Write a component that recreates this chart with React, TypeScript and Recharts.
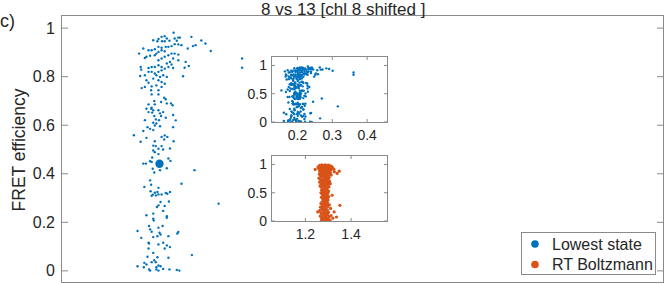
import { ScatterChart, Scatter, XAxis, YAxis } from 'recharts';

const BLUE = '#0072BD';
const ORANGE = '#D95319';
const FRAME = '#8a8a8a';
const TEXT = '#262626';
const FONT = "'Liberation Sans', Arial, Helvetica, sans-serif";

// lowest state: [x, FRET efficiency]
const lowestState: [number, number][] = [
  [0.230, 0.981], [0.213, 0.967], [0.207, 0.964], [0.217, 0.957], [0.201, 0.955], [0.191, 0.950], [0.199, 0.946],
  [0.208, 0.946], [0.213, 0.946], [0.222, 0.948], [0.232, 0.957], [0.239, 0.961], [0.242, 0.961], [0.264, 0.964],
  [0.283, 0.949], [0.291, 0.937], [0.272, 0.930], [0.267, 0.926], [0.257, 0.916], [0.301, 0.906], [0.236, 0.948],
  [0.232, 0.934], [0.239, 0.933], [0.245, 0.930], [0.226, 0.926], [0.220, 0.923], [0.215, 0.923], [0.207, 0.919],
  [0.201, 0.923], [0.194, 0.913], [0.188, 0.909], [0.182, 0.909], [0.172, 0.916], [0.207, 0.909], [0.213, 0.905],
  [0.201, 0.902], [0.197, 0.895], [0.194, 0.888], [0.185, 0.886], [0.178, 0.882], [0.175, 0.877], [0.164, 0.895],
  [0.226, 0.895], [0.232, 0.895], [0.239, 0.891], [0.220, 0.888], [0.213, 0.882], [0.207, 0.875], [0.201, 0.868],
  [0.229, 0.875], [0.239, 0.868], [0.253, 0.861], [0.223, 0.861], [0.217, 0.854], [0.226, 0.850], [0.220, 0.840],
  [0.213, 0.833], [0.207, 0.840], [0.201, 0.847], [0.194, 0.840], [0.188, 0.840], [0.182, 0.836], [0.167, 0.840],
  [0.168, 0.829], [0.251, 0.837], [0.259, 0.844], [0.229, 0.836], [0.207, 0.826], [0.201, 0.820], [0.194, 0.813],
  [0.188, 0.820], [0.182, 0.820], [0.175, 0.806], [0.166, 0.803], [0.197, 0.806], [0.204, 0.799], [0.210, 0.806],
  [0.217, 0.799], [0.248, 0.802], [0.191, 0.792], [0.178, 0.785], [0.182, 0.775], [0.201, 0.785], [0.207, 0.778],
  [0.213, 0.771], [0.197, 0.764], [0.188, 0.760], [0.175, 0.758], [0.169, 0.753], [0.207, 0.758], [0.361, 0.875],
  [0.361, 0.837],
  [0.187, 0.744], [0.201, 0.744], [0.188, 0.727], [0.201, 0.727], [0.212, 0.713], [0.215, 0.707], [0.193, 0.700],
  [0.206, 0.696], [0.217, 0.690], [0.225, 0.690], [0.228, 0.682], [0.182, 0.686], [0.194, 0.686], [0.188, 0.672],
  [0.178, 0.668], [0.187, 0.668], [0.191, 0.662], [0.201, 0.662], [0.182, 0.654], [0.189, 0.652], [0.210, 0.654],
  [0.204, 0.649], [0.229, 0.642], [0.193, 0.638], [0.206, 0.638], [0.215, 0.631], [0.175, 0.621], [0.196, 0.624],
  [0.202, 0.621], [0.234, 0.620], [0.191, 0.610], [0.197, 0.607], [0.194, 0.599], [0.204, 0.596], [0.229, 0.592],
  [0.180, 0.592], [0.185, 0.585], [0.172, 0.576], [0.191, 0.580], [0.154, 0.559], [0.207, 0.552], [0.213, 0.558],
  [0.218, 0.552], [0.212, 0.541], [0.167, 0.532], [0.178, 0.548], [0.194, 0.534], [0.230, 0.534], [0.191, 0.516],
  [0.196, 0.514], [0.207, 0.514], [0.201, 0.503], [0.210, 0.500], [0.223, 0.504], [0.191, 0.496], [0.194, 0.489],
  [0.201, 0.481], [0.189, 0.467], [0.185, 0.452], [0.188, 0.449], [0.172, 0.442], [0.177, 0.442], [0.220, 0.463],
  [0.224, 0.453], [0.217, 0.423], [0.190, 0.421], [0.204, 0.415], [0.193, 0.405], [0.270, 0.415], [0.245, 0.359],
  [0.185, 0.373], [0.187, 0.355], [0.174, 0.346], [0.201, 0.342], [0.186, 0.328], [0.194, 0.322], [0.199, 0.325],
  [0.190, 0.314], [0.188, 0.309], [0.196, 0.311], [0.201, 0.315], [0.207, 0.315], [0.215, 0.321], [0.218, 0.318],
  [0.223, 0.325], [0.221, 0.286], [0.205, 0.284], [0.201, 0.270], [0.198, 0.263], [0.213, 0.267], [0.316, 0.277],
  [0.210, 0.247], [0.178, 0.229], [0.191, 0.236], [0.217, 0.225],
  [0.191, 0.215], [0.192, 0.208], [0.217, 0.219], [0.183, 0.185], [0.209, 0.185], [0.161, 0.164], [0.185, 0.171],
  [0.188, 0.161], [0.201, 0.178], [0.203, 0.157], [0.205, 0.150], [0.191, 0.139], [0.199, 0.143], [0.220, 0.143],
  [0.237, 0.154], [0.239, 0.160], [0.168, 0.136], [0.182, 0.116], [0.183, 0.113], [0.201, 0.109], [0.210, 0.116],
  [0.217, 0.105], [0.213, 0.092], [0.223, 0.098], [0.182, 0.092], [0.191, 0.074], [0.180, 0.058], [0.199, 0.056],
  [0.220, 0.054], [0.265, 0.065], [0.193, 0.044], [0.174, 0.033], [0.178, 0.026], [0.188, 0.036], [0.196, 0.036],
  [0.201, 0.022], [0.205, 0.019], [0.197, 0.015], [0.161, 0.019], [0.173, 0.015], [0.183, 0.006], [0.185, 0.001],
  [0.197, 0.006], [0.201, 0.001], [0.210, 0.008], [0.222, 0.006], [0.236, 0.004], [0.241, 0.001],
];
const lowestMean: [number, number][] = [[0.203, 0.441]];

// RT Boltzmann: [x, FRET efficiency]
const boltzmann: [number, number][] = [
  [1.262, 0.985], [1.271, 0.992], [1.279, 0.978], [1.286, 0.995], [1.293, 0.983], [1.301, 0.990], [1.309, 0.976],
  [1.268, 0.968], [1.276, 0.962], [1.284, 0.971], [1.291, 0.958], [1.298, 0.966], [1.306, 0.960], [1.314, 0.969],
  [1.255, 0.955], [1.264, 0.948], [1.273, 0.944], [1.281, 0.952], [1.289, 0.940], [1.296, 0.947], [1.303, 0.938],
  [1.311, 0.951], [1.319, 0.943], [1.258, 0.930], [1.267, 0.926], [1.275, 0.933], [1.283, 0.920], [1.292, 0.928],
  [1.300, 0.918], [1.308, 0.925], [1.316, 0.931], [1.243, 0.912], [1.262, 0.910], [1.271, 0.905], [1.279, 0.914],
  [1.287, 0.902], [1.295, 0.908], [1.304, 0.900], [1.312, 0.909], [1.325, 0.912], [1.266, 0.892], [1.277, 0.888],
  [1.289, 0.895], [1.298, 0.884], [1.307, 0.890], [1.348, 0.882], [1.339, 0.842], [1.327, 0.870],
  [1.263, 0.874], [1.272, 0.866], [1.283, 0.871], [1.292, 0.860], [1.301, 0.868], [1.310, 0.857], [1.268, 0.850],
  [1.279, 0.843], [1.288, 0.852], [1.296, 0.838], [1.305, 0.845], [1.261, 0.828], [1.274, 0.822], [1.285, 0.830],
  [1.294, 0.816], [1.303, 0.824], [1.313, 0.812], [1.266, 0.805], [1.277, 0.798], [1.289, 0.808], [1.298, 0.792],
  [1.270, 0.782], [1.282, 0.775], [1.292, 0.786], [1.304, 0.770], [1.259, 0.760], [1.286, 0.755], [1.297, 0.748],
  [1.265, 0.738], [1.276, 0.731], [1.288, 0.726], [1.300, 0.734], [1.271, 0.712], [1.283, 0.705], [1.294, 0.716],
  [1.306, 0.701], [1.262, 0.690], [1.278, 0.684], [1.290, 0.692], [1.301, 0.678], [1.268, 0.665], [1.280, 0.658],
  [1.293, 0.670], [1.309, 0.660], [1.274, 0.642], [1.286, 0.636], [1.298, 0.648], [1.264, 0.620], [1.279, 0.614],
  [1.291, 0.625], [1.303, 0.608], [1.270, 0.596], [1.284, 0.588], [1.296, 0.580], [1.275, 0.565], [1.289, 0.558],
  [1.271, 0.545], [1.283, 0.538], [1.294, 0.548], [1.302, 0.530], [1.276, 0.520], [1.288, 0.512], [1.299, 0.505],
  [1.268, 0.498], [1.281, 0.490], [1.293, 0.484], [1.274, 0.470], [1.286, 0.462], [1.297, 0.455], [1.317, 0.456],
  [1.279, 0.442], [1.291, 0.436], [1.302, 0.428], [1.270, 0.418], [1.284, 0.410], [1.295, 0.402], [1.276, 0.388],
  [1.288, 0.380], [1.299, 0.372], [1.281, 0.356], [1.293, 0.350],
  [1.273, 0.338], [1.286, 0.330], [1.297, 0.322], [1.268, 0.308], [1.280, 0.300], [1.292, 0.294], [1.305, 0.286],
  [1.351, 0.278], [1.275, 0.272], [1.287, 0.265], [1.299, 0.258], [1.266, 0.245], [1.279, 0.238], [1.291, 0.230],
  [1.310, 0.222], [1.272, 0.210], [1.284, 0.202], [1.296, 0.195], [1.262, 0.182], [1.277, 0.176], [1.289, 0.168],
  [1.254, 0.160], [1.326, 0.160], [1.301, 0.152],
  [1.268, 0.145], [1.281, 0.138], [1.293, 0.130], [1.273, 0.118], [1.286, 0.110], [1.298, 0.102], [1.312, 0.096],
  [1.265, 0.088], [1.278, 0.080], [1.290, 0.072], [1.336, 0.071], [1.303, 0.064], [1.271, 0.055], [1.284, 0.048],
  [1.296, 0.040], [1.276, 0.030], [1.288, 0.022], [1.300, 0.015], [1.270, 0.010], [1.282, 0.006], [1.294, 0.003],
  [1.308, 0.012], [1.320, 0.050],
];
const boltzmannMean: [number, number][] = [[1.288, 0.45]];

const mainYTicks = [0, 0.2, 0.4, 0.6, 0.8, 1];
const insetYTicks = [0, 0.5, 1];
const inset1XTicks = [0.2, 0.3, 0.4];
const inset2XTicks = [1.2, 1.4];

const legendItems = [
  { label: 'Lowest state', color: BLUE },
  { label: 'RT Boltzmann', color: ORANGE },
];

const toXY = (pts: [number, number][]) => pts.map(([x, y]) => ({ x, y }));

const dot = (color: string, r: number) => (p: any) => (
  <circle cx={p.cx} cy={p.cy} r={r} fill={color} />
);

// left labels + inward ticks on both sides
function yTick(plotW: number, len: number, gap: number, fs: number) {
  return (p: any) => (
    <g>
      <line x1={p.x} x2={p.x + len} y1={p.y} y2={p.y} stroke={FRAME} />
      <line x1={p.x + plotW - len} x2={p.x + plotW} y1={p.y} y2={p.y} stroke={FRAME} />
      <text x={p.x - gap} y={p.y} dy="0.35em" textAnchor="end" fontSize={fs} fontFamily={FONT} fill={TEXT}>
        {String(p.payload.value)}
      </text>
    </g>
  );
}

function xTick(plotH: number, len: number, gap: number, fs: number) {
  return (p: any) => (
    <g>
      <line x1={p.x} x2={p.x} y1={p.y} y2={p.y - len} stroke={FRAME} />
      <line x1={p.x} x2={p.x} y1={p.y - plotH} y2={p.y - plotH + len} stroke={FRAME} />
      <text x={p.x} y={p.y + gap} textAnchor="middle" fontSize={fs} fontFamily={FONT} fill={TEXT}>
        {String(p.payload.value)}
      </text>
    </g>
  );
}

interface InsetProps {
  left: number;
  top: number;
  data: [number, number][];
  mean: [number, number][];
  color: string;
  xDomain: [number, number];
  xTicks: number[];
  r: number;
}

function Inset({ left, top, data, mean, color, xDomain, xTicks, r }: InsetProps) {
  return (
    <div style={{ position: 'absolute', left, top }}>
      <ScatterChart width={170} height={100} margin={{ top: 10, right: 5, bottom: 0, left: 0 }}>
        <XAxis
          type="number"
          dataKey="x"
          domain={xDomain}
          allowDataOverflow
          ticks={xTicks}
          interval={0}
          height={25}
          axisLine={false}
          tickLine={false}
          tickSize={0}
          tickMargin={0}
          tick={xTick(65, 3, 18, 14)}
        />
        <YAxis
          type="number"
          dataKey="y"
          domain={[0, 1.15]}
          allowDataOverflow
          ticks={insetYTicks}
          interval={0}
          width={50}
          axisLine={false}
          tickLine={false}
          tickSize={0}
          tickMargin={0}
          tick={yTick(115, 3, 5, 14)}
        />
        <Scatter data={toXY(data)} shape={dot(color, r)} isAnimationActive={false} />
        <Scatter data={toXY(mean)} shape={dot(color, 3.2)} isAnimationActive={false} />
      </ScatterChart>
    </div>
  );
}

export default function App() {
  return (
    <div style={{ position: 'absolute', left: 0, top: 0, width: 664, height: 284, background: '#fff' }}>
      <div style={{ position: 'absolute', left: 0, top: 0 }}>
        <ScatterChart width={664} height={284} margin={{ top: 16, right: 1, bottom: 1, left: 0 }}>
          <XAxis type="number" dataKey="x" domain={[0.0165, 1.166]} allowDataOverflow hide />
          <YAxis
            type="number"
            dataKey="y"
            domain={[-0.05, 1.05]}
            allowDataOverflow
            ticks={mainYTicks}
            interval={0}
            width={62}
            axisLine={false}
            tickLine={false}
            tickSize={0}
            tickMargin={0}
            tick={yTick(601, 6, 7, 16)}
          />
          <Scatter data={toXY(lowestState)} shape={dot(BLUE, 1.2)} isAnimationActive={false} />
          <Scatter data={toXY(lowestMean)} shape={dot(BLUE, 4.2)} isAnimationActive={false} />
        </ScatterChart>
      </div>

      <Inset left={222} top={47} data={lowestState} mean={lowestMean} color={BLUE} xDomain={[0.127, 0.457]} xTicks={inset1XTicks} r={1.2} />
      <Inset left={222} top={146} data={boltzmann} mean={boltzmannMean} color={ORANGE} xDomain={[1.054, 1.557]} xTicks={inset2XTicks} r={1.6} />

      {/* frames, titles, legend */}
      <svg width={664} height={284} style={{ position: 'absolute', left: 0, top: 0, pointerEvents: 'none' }} fontFamily={FONT}>
        <rect x={61.5} y={15.5} width={602} height={267} fill="none" stroke={FRAME} />
        <rect x={271.5} y={56.5} width={116} height={66} fill="none" stroke={FRAME} />
        <rect x={271.5} y={155.5} width={116} height={66} fill="none" stroke={FRAME} />
        <text x={261} y={14.5} fontSize={17} fill={TEXT}>8 vs 13 [chl 8 shifted ]</text>
        <text x={0} y={26.5} fontSize={18} fill={TEXT}>c)</text>
        <text x={24.5} y={150} transform="rotate(-90 24.5 150)" textAnchor="middle" fontSize={17.5} fill={TEXT}>
          FRET efficiency
        </text>
        <rect x={521.5} y={232.5} width={134} height={42} fill="#fff" stroke={FRAME} />
        {legendItems.map((item, i) => (
          <g key={item.label}>
            <circle cx={535} cy={244 + i * 20.5} r={3.8} fill={item.color} />
            <text x={552} y={249.5 + i * 20.5} fontSize={16} fill={TEXT}>{item.label}</text>
          </g>
        ))}
      </svg>
    </div>
  );
}
